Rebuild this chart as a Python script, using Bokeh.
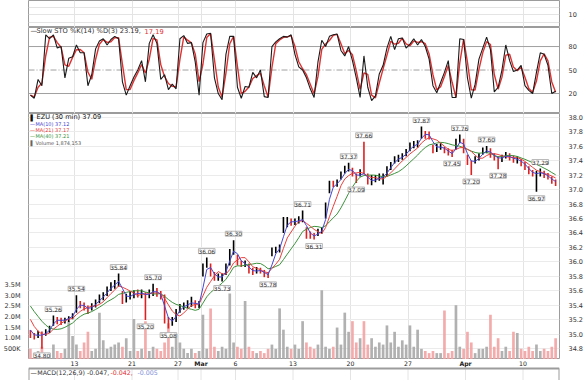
import numpy as np
import pandas as pd
from bokeh.plotting import figure
from bokeh.layouts import column
from bokeh.models import (ColumnDataSource, FixedTicker, LinearAxis, Range1d, Span,
                          LabelSet, PrintfTickFormatter, CustomJSTickFormatter)
from bokeh.core.properties import value, field
from bokeh.embed import file_html
from bokeh.resources import INLINE

# ---------------- data ----------------
first_day = "2017-02-07"
last_day = "2017-04-12"
holidays = ["2017-02-20"]
bars_per_day = 3          # bars drawn per trading day
bars_per_session = 13     # 30-minute bars in one trading day

warmup_close = [35.70, 35.66, 35.62, 35.58, 35.52, 35.45, 35.34, 35.20, 35.08]

bar_low = [34.95,34.93,34.95,34.80,34.98,35.02,35.12,35.14,35.13,35.15,
 35.17,35.21,35.30,35.36,35.33,35.28,35.33,35.37,35.43,35.47,
 35.53,35.60,35.63,35.66,35.42,35.44,35.48,35.50,35.51,35.50,
 35.20,35.50,35.53,35.52,35.48,35.15,35.08,35.12,35.17,35.30,
 35.34,35.36,35.38,35.36,35.36,35.80,35.92,35.80,35.74,35.74,
 35.73,35.82,35.95,36.10,35.95,35.93,35.93,35.84,35.82,35.84,
 35.84,35.79,35.78,36.08,36.12,36.13,36.40,36.48,36.50,36.51,
 36.53,36.55,36.32,36.32,36.31,36.36,36.39,36.60,36.95,37.03,
 37.04,37.14,37.22,37.25,37.18,37.09,37.18,37.21,37.07,37.06,
 37.10,37.12,37.07,37.18,37.27,37.36,37.38,37.41,37.46,37.53,
 37.57,37.58,37.70,37.70,37.69,37.50,37.52,37.55,37.50,37.47,
 37.45,37.55,37.64,37.50,37.34,37.20,37.36,37.40,37.48,37.50,
 37.44,37.40,37.28,37.38,37.43,37.40,37.37,37.36,37.32,37.27,
 37.21,37.18,36.97,37.18,37.16,37.14,37.08,37.05]

bar_high = [35.06,35.02,35.05,35.04,35.07,35.12,35.26,35.24,35.23,35.23,
 35.25,35.29,35.54,35.46,35.44,35.40,35.43,35.48,35.55,35.58,
 35.66,35.72,35.75,35.84,35.60,35.56,35.60,35.61,35.62,35.62,
 35.58,35.62,35.70,35.64,35.60,35.55,35.24,35.24,35.35,35.42,
 35.44,35.47,35.52,35.47,35.46,35.98,36.06,35.98,35.86,35.84,
 35.84,35.98,36.18,36.30,36.10,36.02,36.02,35.98,35.92,35.93,
 35.92,35.89,35.86,36.20,36.21,36.24,36.62,36.62,36.60,36.60,
 36.63,36.71,36.48,36.42,36.40,36.46,36.48,36.82,37.12,37.12,
 37.14,37.25,37.33,37.37,37.30,37.22,37.28,37.66,37.22,37.20,
 37.20,37.22,37.22,37.32,37.38,37.46,37.48,37.50,37.56,37.65,
 37.67,37.68,37.87,37.81,37.80,37.62,37.63,37.64,37.59,37.57,
 37.55,37.70,37.76,37.70,37.48,37.40,37.46,37.50,37.58,37.60,
 37.57,37.50,37.46,37.48,37.52,37.50,37.47,37.46,37.42,37.38,
 37.32,37.27,37.26,37.29,37.26,37.23,37.18,37.14]

bar_close = [35.00,34.96,35.01,34.98,35.04,35.10,35.22,35.20,35.18,35.21,
 35.24,35.27,35.45,35.40,35.38,35.33,35.40,35.45,35.50,35.55,
 35.62,35.68,35.70,35.78,35.47,35.51,35.55,35.57,35.56,35.58,
 35.52,35.58,35.62,35.56,35.53,35.20,35.16,35.20,35.32,35.38,
 35.40,35.42,35.46,35.40,35.42,35.94,36.00,35.84,35.78,35.79,
 35.80,35.95,36.14,36.22,36.00,35.97,35.98,35.87,35.86,35.89,
 35.88,35.82,35.81,36.15,36.17,36.20,36.55,36.56,36.55,36.56,
 36.58,36.60,36.38,36.36,36.35,36.43,36.44,36.78,37.08,37.06,
 37.10,37.20,37.28,37.30,37.22,37.15,37.24,37.22,37.10,37.12,
 37.15,37.17,37.18,37.29,37.35,37.42,37.44,37.46,37.53,37.60,
 37.62,37.64,37.80,37.76,37.74,37.55,37.58,37.60,37.54,37.50,
 37.48,37.66,37.70,37.55,37.38,37.36,37.42,37.46,37.54,37.55,
 37.48,37.44,37.42,37.45,37.48,37.44,37.41,37.42,37.36,37.32,
 37.24,37.21,37.22,37.25,37.19,37.17,37.11,37.09]

volume_m = [0.5,0.3,0.4,0.6,0.3,0.3,0.7,0.4,0.3,0.5,
 1.8,1.1,0.7,0.4,0.8,1.3,0.4,0.5,2.2,0.9,
 0.5,0.6,0.7,0.8,0.6,1.0,0.4,1.9,0.4,0.5,
 1.8,0.4,0.6,0.5,0.4,0.8,1.7,0.6,1.2,0.8,
 0.5,0.3,0.5,0.3,0.4,2.1,0.5,2.4,0.6,0.4,
 0.6,0.5,3.1,0.8,0.6,0.5,2.75,0.6,0.4,0.3,
 0.4,0.3,0.5,0.7,0.5,2.4,1.4,0.6,0.5,0.7,
 0.5,1.8,0.8,0.6,0.5,0.7,3.25,0.6,0.5,0.6,
 1.5,0.7,2.2,1.3,1.8,0.8,1.0,1.8,0.7,1.0,
 0.6,0.8,0.7,1.6,0.8,1.3,0.6,0.9,0.7,1.6,
 0.6,1.4,0.5,0.4,0.3,0.4,0.3,0.3,2.3,0.3,
 0.4,2.55,0.6,0.5,1.3,0.8,0.3,0.5,0.5,0.6,
 2.1,0.6,1.0,0.4,0.6,0.4,1.3,1.25,0.5,0.4,
 0.6,0.4,0.7,0.4,0.5,0.4,0.6,1.0]

stoch_k = [18,14,38,30,95,90,95,78,80,40,
 65,67,82,72,72,30,44,77,87,90,
 82,89,93,90,35,18,30,41,50,62,
 35,84,95,84,38,44,25,32,26,90,
 94,84,85,60,18,85,96,97,40,20,
 12,70,93,93,28,14,29,28,47,40,
 50,16,15,80,86,90,93,92,95,70,
 54,50,40,26,15,60,88,80,93,95,
 96,75,68,80,62,40,15,68,28,11,
 17,45,56,78,93,76,90,91,78,83,
 90,82,89,80,64,30,21,34,47,62,
 15,15,90,89,40,14,32,64,78,92,
 76,22,28,50,82,62,48,50,56,30,
 24,20,47,72,70,56,20,23]

high_marks = [35.26, 35.54, 35.84, 35.70, 36.06, 36.30, 36.71, 37.37, 37.66, 37.87, 37.76, 37.60, 37.29]
low_marks = [34.80, 35.20, 35.08, 35.73, 35.78, 36.31, 37.09, 37.45, 37.20, 37.28, 36.97]

price_ticks = [34.8, 35.0, 35.2, 35.4, 35.6, 35.8, 36.0, 36.2, 36.4, 36.6, 36.8, 37.0, 37.2, 37.4, 37.6, 37.8, 38.0]
volume_ticks = [0.5, 1.0, 1.5, 2.0, 2.5, 3.0, 3.5]
stoch_levels = [20, 50, 80]
top_ticks = [0, 10, 20]
top_labels = [10]

sto_title = "Slow STO %K(14) %D(3) 23.19, "
sto_title_red = "17.19"
price_title = "EZU (30 min) 37.09"
ma_titles = ["MA(10) 37.12", "MA(21) 37.17", "MA(40) 37.21"]
ma_periods = [10, 21, 40]
vol_title = "Volume 1,874,153"
macd_parts = ["MACD(12,26,9) -0.047, ", "-0.042, ", "-0.005"]

# ---------------- derived ----------------
days = [d for d in pd.bdate_range(first_day, last_day) if d.strftime("%Y-%m-%d") not in holidays]
tick_x, tick_text, tick_style = [], [], []
for i in range(1, len(days)):
    d, prev = days[i], days[i - 1]
    new_month = d.month != prev.month
    new_week = d.weekday() < prev.weekday()
    if new_month or new_week:
        tick_x.append(float(i))
        tick_text.append(d.strftime("%b") if new_month else str(d.day))
        tick_style.append("bold" if new_month else "normal")

lo = np.array(bar_low); hi = np.array(bar_high); cl = np.array(bar_close)
n = len(cl)
bx = (np.arange(n) + 0.5) / bars_per_day
prev_close = np.r_[warmup_close[-1], cl[:-1]]
up = cl > prev_close
bar_col = np.where(up, "#000000", "#dd2020")
vol_col = np.where(up, "#a9a9a9", "#f2a2a2")


def frac_sma(vals, w):
    vals = np.asarray(vals, float)
    k = int(np.floor(w)); frac = w - k
    weights = np.ones(k + (1 if frac > 1e-9 else 0))
    if frac > 1e-9:
        weights[-1] = frac
    out = np.full(len(vals), np.nan)
    m = len(weights)
    for i in range(m - 1, len(vals)):
        out[i] = np.dot(vals[i - m + 1:i + 1][::-1], weights) / weights.sum()
    return out


all_close = np.r_[warmup_close, cl]
mas = [frac_sma(all_close, p * bars_per_day / bars_per_session)[len(warmup_close):] for p in ma_periods]
sk = np.array(stoch_k, float)
sd = frac_sma(np.r_[sk[0], sk], 1.7)[1:]

# ---------------- layout ----------------
FONT = "DejaVu Sans"
W, LB, RB = 585, 28, 26
FW = W - LB - RB
H_TOP, H_STO, H_PRICE, H_DATE, H_MACD = 27, 86, 246, 9, 12
X0, X1 = 0.0, 46.17
xr = Range1d(X0, X1)
GRID = "#e4e4e4"
OUTLINE = "#9c9c9c"


def style_axis(ax, size="6.5px", standoff=3):
    ax.axis_line_color = None
    ax.major_tick_line_color = None
    ax.minor_tick_line_color = None
    ax.major_label_text_font = FONT
    ax.major_label_text_font_size = size
    ax.major_label_text_color = "#333333"
    ax.major_label_standoff = standoff


def make_panel(h, y0, y1, outline=True):
    p = figure(width=W, height=h, x_range=xr, y_range=Range1d(y0, y1),
               output_backend="svg", toolbar_location=None, tools="", title=None,
               min_border_left=LB, min_border_right=RB, min_border_top=0, min_border_bottom=0,
               x_axis_location=None, y_axis_location="right")
    p.outline_line_color = OUTLINE if outline else None
    p.background_fill_color = "white"
    p.border_fill_color = "white"
    p.xgrid.ticker = FixedTicker(ticks=tick_x)
    p.xgrid.grid_line_color = GRID
    p.ygrid.grid_line_color = None
    style_axis(p.yaxis[0])
    return p


def put_text(p, xpx, ypx, txt, color, size, h, y0, y1, style="normal"):
    xd = X0 + xpx * (X1 - X0) / FW
    yd = y1 - ypx * (y1 - y0) / h
    p.text(x=[xd], y=[yd], text=[txt], text_color=color, text_font=value(FONT),
           text_font_size=f"{size}px", text_font_style=style,
           text_baseline="middle", text_align="left")


# top strip (previous indicator, cut off)
T0, T1 = -7.3, 28.7
top = make_panel(H_TOP, T0, T1)
top.ygrid.ticker = FixedTicker(ticks=top_ticks)
top.ygrid.grid_line_color = GRID
top.yaxis.ticker = FixedTicker(ticks=top_labels)

# stochastics
S0, S1 = -5.5, 104.3
sto = make_panel(H_STO, S0, S1)
sto.yaxis.ticker = FixedTicker(ticks=stoch_levels)
for lv in stoch_levels:
    sp = Span(location=lv, dimension="width", line_color="#a0a0a0", line_width=1,
              line_dash="solid" if lv != 50 else "6 2 1 2")
    sp.level = "underlay"
    sto.add_layout(sp)
sto.line(bx, sd, line_color="#e03030", line_width=1.4)
sto.line(bx, sk, line_color="#1a1a1a", line_width=1.1)
put_text(sto, 2, 3.5, "\u2014", "#222222", 6.7, H_STO, S0, S1)
put_text(sto, 8, 3.5, sto_title, "#333333", 6.7, H_STO, S0, S1)
put_text(sto, 116, 3.5, sto_title_red, "#e03030", 6.7, H_STO, S0, S1)

# price + volume
P0, P1 = 34.653, 38.05
pr = make_panel(H_PRICE, P0, P1)
pr.yaxis.ticker = FixedTicker(ticks=price_ticks)
pr.yaxis.formatter = PrintfTickFormatter(format="%.1f")
pr.ygrid.ticker = FixedTicker(ticks=price_ticks)
pr.ygrid.grid_line_color = "#ebebeb"
pr.extra_y_ranges = {"vol": Range1d(0, 11.55)}
vax = LinearAxis(y_range_name="vol", ticker=FixedTicker(ticks=volume_ticks),
                 formatter=CustomJSTickFormatter(code="return tick >= 1 ? tick.toFixed(1) + 'M' : (tick*1000).toFixed(0) + 'K';"))
style_axis(vax, standoff=2)
pr.add_layout(vax, "left")

src = ColumnDataSource(dict(x=bx, lo=lo, hi=hi, vol=np.array(volume_m), bc=bar_col, vc=vol_col,
                            ma10=mas[0], ma21=mas[1], ma40=mas[2]))
pr.vbar(x="x", top="vol", bottom=0, width=0.7 / bars_per_day, fill_color="vc", line_color=None,
        fill_alpha=0.9, y_range_name="vol", source=src)
pr.segment(x0="x", y0="lo", x1="x", y1="hi", line_color="bc", line_width=1.6, source=src)
pr.line("x", "ma40", line_color="#3c923c", line_width=1, source=src)
pr.line("x", "ma21", line_color="#e8403c", line_width=1, source=src)
pr.line("x", "ma10", line_color="#4646d2", line_width=1, source=src)

ppx = (P1 - P0) / H_PRICE
hi_idx = [int(np.argmin(np.abs(hi - v))) for v in high_marks]
lo_idx = [int(np.argmin(np.abs(lo - v))) for v in low_marks]
lab_kw = dict(text_align="center", text_font=value(FONT), text_font_size="5.8px",
              text_color="#333333", background_fill_color="white", border_line_color="#b8b8b8")
if "padding" in LabelSet.properties():
    lab_kw["padding"] = 1
hs = ColumnDataSource(dict(x=bx[hi_idx], y=hi[hi_idx] + 4 * ppx, t=[f"{v:.2f}" for v in high_marks]))
ls = ColumnDataSource(dict(x=bx[lo_idx], y=lo[lo_idx] - 4 * ppx, t=[f"{v:.2f}" for v in low_marks]))
pr.add_layout(LabelSet(x="x", y="y", text="t", source=hs, text_baseline="bottom", **lab_kw))
pr.add_layout(LabelSet(x="x", y="y", text="t", source=ls, text_baseline="top", **lab_kw))

put_text(pr, 2, 3.7, "\u258c", "#111111", 6, H_PRICE, P0, P1)
put_text(pr, 8, 3.7, price_title, "#111111", 6.6, H_PRICE, P0, P1)
ma_cols = ["#4646d2", "#e8403c", "#3c923c"]
for j, (t, c) in enumerate(zip(ma_titles, ma_cols)):
    yy = 10.3 + 6.2 * j
    put_text(pr, 1.5, yy, "\u2014", c, 5, H_PRICE, P0, P1)
    put_text(pr, 7, yy, t, c, 5, H_PRICE, P0, P1)
put_text(pr, 2, 29.2, "\u258c", "#666666", 5, H_PRICE, P0, P1)
put_text(pr, 7, 29.2, vol_title, "#555555", 5, H_PRICE, P0, P1)

# date row + MACD strip (cut off) in one figure; y in pixels from its bottom
HB = H_DATE + H_MACD
mc = make_panel(HB, 0, HB, outline=False)
mc.yaxis.ticker = FixedTicker(ticks=[])
mc.xgrid.grid_line_color = None
mc.segment(x0=tick_x, y0=[0] * len(tick_x), x1=tick_x, y1=[H_MACD] * len(tick_x),
           line_color=GRID, line_width=1)
mc.segment(x0=[X0, X0, X1], y0=[H_MACD, 0, 0], x1=[X1, X0, X1], y1=[H_MACD, H_MACD, H_MACD],
           line_color=OUTLINE, line_width=2)
dsrc = ColumnDataSource(dict(x=tick_x, y=[HB - 4.0] * len(tick_x), t=tick_text, s=tick_style))
mc.text(x="x", y="y", text="t", text_font_style=field("s"), source=dsrc, text_align="center",
        text_baseline="middle", text_font=value(FONT), text_font_size="6.2px", text_color="#222222")
put_text(mc, 2, H_DATE + 3.8, "\u2014", "#222222", 6.3, HB, 0, HB)
put_text(mc, 8.7, H_DATE + 3.8, macd_parts[0], "#333333", 6.3, HB, 0, HB)
put_text(mc, 82, H_DATE + 3.8, macd_parts[1], "#e03030", 6.3, HB, 0, HB)
put_text(mc, 109, H_DATE + 3.8, macd_parts[2], "#7d8ed8", 6.3, HB, 0, HB)

layout = column(top, sto, pr, mc, spacing=0)
open("out.html", "w").write(file_html(layout, INLINE))
